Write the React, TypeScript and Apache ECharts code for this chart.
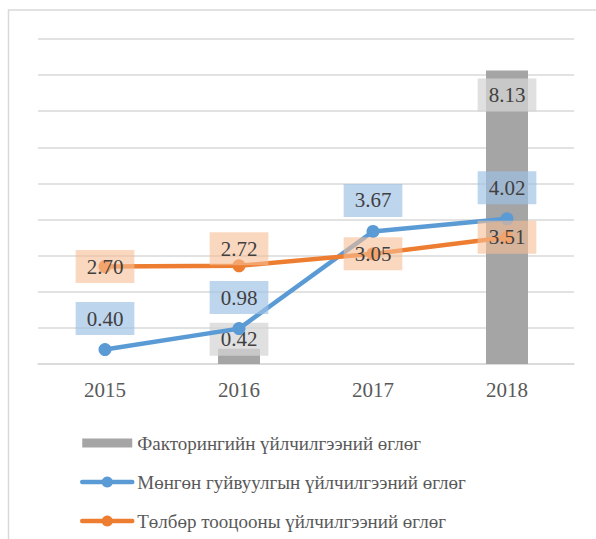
import React, { useEffect, useRef } from 'react';
import * as echarts from 'echarts';

const years = ['2015', '2016', '2017', '2018'];
const factoring: (number | null)[] = [null, 0.42, null, 8.13];
const transfer = [0.4, 0.98, 3.67, 4.02];
const payment = [2.7, 2.72, 3.05, 3.51];
const seriesNames = [
  'Факторингийн үйлчилгээний өглөг',
  'Мөнгөн гуйвуулгын үйлчилгээний өглөг',
  'Төлбөр тооцооны үйлчилгээний өглөг',
];
const yMin = 0;
const yMax = 9;
const yStep = 1;

const FONT = 'Liberation Serif';

export default function App() {
  const ref = useRef<HTMLDivElement>(null);
  useEffect(() => {
    document.body.style.margin = '0';
    if (!ref.current) return;
    const chart = echarts.init(ref.current, undefined, { renderer: 'svg' });
    const labelBase = {
      show: true,
      fontFamily: FONT,
      fontSize: 21,
      lineHeight: 21,
      color: '#404040',
      padding: [6, 11, 6, 11],
      formatter: (p: any) => (p.value == null ? '' : Number(p.value).toFixed(2)),
    };
    const barData = factoring.map((v, i) => {
      if (v == null) return '-';
      const label =
        i === 3
          ? { position: 'insideTop', distance: 8 }
          : { position: 'top', distance: -7 };
      return { value: v, label };
    });
    const payData = payment.map((v, i) => ({
      value: v,
      label: i === 1 ? { position: 'inside', offset: [0, -17] } : { position: 'inside' },
    }));
    chart.setOption({
      animation: false,
      textStyle: { fontFamily: FONT },
      graphic: [
        {
          type: 'rect',
          z: -10,
          shape: { x: 8.5, y: 10, width: 800, height: 800 },
          style: { fill: 'none', stroke: '#d9d9d9', lineWidth: 1.5 },
        },
      ],
      grid: { left: 38, right: 22, top: 39, bottom: 175, containLabel: false },
      xAxis: {
        type: 'category',
        data: years,
        axisLine: { lineStyle: { color: '#d9d9d9', width: 1.5 } },
        axisTick: { show: false },
        axisLabel: { fontFamily: FONT, fontSize: 21, color: '#595959', margin: 15 },
      },
      yAxis: {
        type: 'value',
        min: yMin,
        max: yMax,
        interval: yStep,
        axisLabel: { show: false },
        axisLine: { show: false },
        axisTick: { show: false },
        splitLine: { lineStyle: { color: '#d9d9d9', width: 1.5 } },
      },
      legend: {
        orient: 'vertical',
        left: 75,
        top: 428,
        itemWidth: 50,
        itemHeight: 14,
        itemGap: 19,
        textStyle: { fontFamily: FONT, fontSize: 19, color: '#595959', lineHeight: 20 },
        data: [
          { name: seriesNames[0], icon: 'path://M0,0H45V8H0Z' },
          { name: seriesNames[1], lineStyle: { width: 4.5, cap: 'round' } },
          { name: seriesNames[2], lineStyle: { width: 4.5, cap: 'round' } },
        ],
      },
      series: [
        {
          name: seriesNames[0],
          type: 'bar',
          data: barData,
          barWidth: 42,
          itemStyle: { color: '#a5a5a5' },
          label: { ...labelBase, backgroundColor: 'rgba(212,212,212,0.73)' },
          z: 2,
        },
        {
          name: seriesNames[1],
          type: 'line',
          data: transfer,
          symbol: 'circle',
          symbolSize: 13,
          lineStyle: { color: '#5b9bd5', width: 4.5, cap: 'round' },
          itemStyle: { color: '#5b9bd5' },
          label: {
            ...labelBase,
            position: 'top',
            distance: 8,
            backgroundColor: 'rgba(158,193,230,0.67)',
          },
          z: 3,
        },
        {
          name: seriesNames[2],
          type: 'line',
          data: payData,
          symbol: 'circle',
          symbolSize: 13,
          lineStyle: { color: '#ed7d31', width: 4.5, cap: 'round' },
          itemStyle: { color: '#ed7d31' },
          label: { ...labelBase, backgroundColor: 'rgba(247,190,150,0.6)' },
          z: 3,
        },
      ],
    });
    return () => chart.dispose();
  }, []);
  return <div ref={ref} style={{ width: 596, height: 539 }} />;
}
